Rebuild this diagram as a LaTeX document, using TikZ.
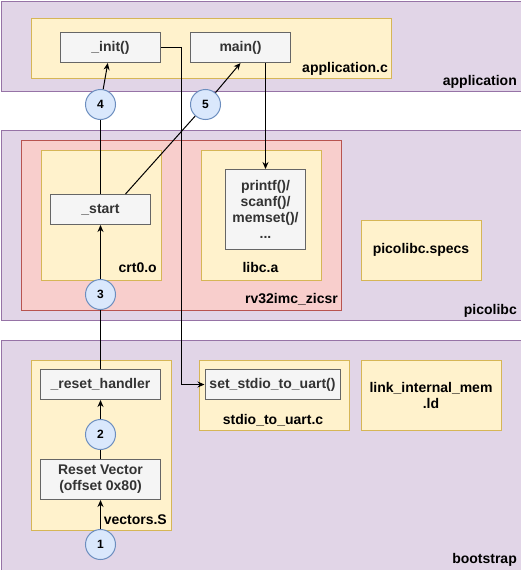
\documentclass[tikz,border=0pt]{standalone}
\usepackage{fontspec}
\setmainfont{Liberation Sans}
\usetikzlibrary{arrows.meta}
\definecolor{purF}{HTML}{E1D5E7}\definecolor{purD}{HTML}{9673A6}
\definecolor{yelF}{HTML}{FFF2CC}\definecolor{yelD}{HTML}{D6B656}
\definecolor{redF}{HTML}{F8CECC}\definecolor{redD}{HTML}{B85450}
\definecolor{gryF}{HTML}{F5F5F5}\definecolor{gryD}{HTML}{666666}\definecolor{gryT}{HTML}{333333}
\definecolor{bluF}{HTML}{DAE8FC}\definecolor{bluD}{HTML}{6C8EBF}
\tikzset{
  band/.style={draw=purD,fill=purF,line width=1pt,rectangle,anchor=north west,inner sep=0pt},
  ybox/.style={draw=yelD,fill=yelF,line width=1pt,rectangle,anchor=north west,inner sep=0pt},
  rbox/.style={draw=redD,fill=redF,line width=1pt,rectangle,anchor=north west,inner sep=0pt},
  gbox/.style={draw=gryD,fill=gryF,line width=1pt,rectangle,text=gryT,font=\bfseries\fontsize{14}{16}\selectfont,align=center,inner sep=0pt},
  lbl/.style={font=\bfseries\fontsize{14}{16}\selectfont,inner sep=0pt,align=center},
  num/.style={circle,draw=bluD,fill=bluF,line width=1pt,minimum size=30pt,inner sep=0pt,font=\bfseries\fontsize{12}{14}\selectfont},
  conn/.style={line width=1pt,draw=black},
  arr/.style={conn,-{Stealth[length=7pt,width=6pt]}},
}
\begin{document}
\begin{tikzpicture}[x=1pt,y=-1pt]
\useasboundingbox (0,0) rectangle (521,570);
% bands
\node[band,minimum width=520pt,minimum height=90pt] (appband) at (0.5,0.5) {};
\node[band,minimum width=520pt,minimum height=190pt] (picband) at (0.5,129.5) {};
\node[band,minimum width=520pt,minimum height=230pt] (bootband) at (0.5,339.5) {};
\node[lbl,anchor=base east] (appl) at (517,85) {application};
\node[lbl,anchor=base east] (picl) at (517,314) {picolibc};
\node[lbl,anchor=base east] (bootl) at (517,563) {bootstrap};
% application
\node[ybox,minimum width=360pt,minimum height=60pt] (appc) at (30.5,17.5) {};
\node[lbl,anchor=base east] (appcl) at (388,72) {application.c};
\node[gbox,minimum width=100pt,minimum height=30pt] (init) at (110.5,47.5) {\_init()};
\node[gbox,minimum width=100pt,minimum height=30pt] (main) at (240.5,47.5) {main()};
% picolibc
\node[rbox,minimum width=320pt,minimum height=170pt] (rv) at (20.5,139.5) {};
\node[lbl,anchor=base east] (rvl) at (338,303) {rv32imc\_zicsr};
\node[ybox,minimum width=120pt,minimum height=130pt] (crt) at (40.5,149.5) {};
\node[lbl,anchor=base east] (crtl) at (157,272) {crt0.o};
\node[ybox,minimum width=120pt,minimum height=130pt] (libc) at (200.5,149.5) {};
\node[lbl,anchor=base] (libcl) at (260.5,272) {libc.a};
\node[gbox,minimum width=100pt,minimum height=30pt] (start) at (100.5,209.5) {\_start};
\node[gbox,minimum width=80pt,minimum height=80pt] (printf) at (265.5,209.5) {printf()/\\scanf()/\\memset()/\\...};
\node[ybox,minimum width=120pt,minimum height=60pt,lbl] (specs) at (360.5,219.5) {picolibc.specs};
% bootstrap
\node[ybox,minimum width=140pt,minimum height=170pt] (vec) at (30.5,359.5) {};
\node[lbl,anchor=base east] (vecl) at (167,524) {vectors.S};
\node[gbox,minimum width=120pt,minimum height=30pt] (reset) at (100.5,384.5) {\_reset\_handler};
\node[gbox,minimum width=120pt,minimum height=40pt] (rvec) at (100.5,479.5) {Reset Vector\\(offset 0x80)};
\node[ybox,minimum width=150pt,minimum height=70pt] (stdc) at (198.5,359.5) {};
\node[lbl,anchor=base] (stdcl) at (273,424) {stdio\_to\_uart.c};
\node[gbox,minimum width=135pt,minimum height=30pt] (setio) at (272.5,384.5) {set\_stdio\_to\_uart()};
\node[ybox,minimum width=140pt,minimum height=70pt,lbl] (link) at (360.5,359.5) {link\_internal\_mem\\.ld};
% numbered circles
\node[num] (n1) at (100.5,544.5) {1};
\node[num] (n2) at (100.5,434.5) {2};
\node[num] (n3) at (100.5,294.5) {3};
\node[num] (n4) at (100.5,104.5) {4};
\node[num] (n5) at (205.5,104.5) {5};
% connectors
\draw[arr] (n1) -- (rvec);
\draw[conn] (rvec) -- (n2);
\draw[arr] (n2) -- (reset);
\draw[conn] (reset) -- (n3);
\draw[arr] (n3) -- (start);
\draw[conn] (start) -- (n4);
\draw[arr] (n4) -- (init);
\draw[conn] ([xshift=25pt]start.north) -- (n5);
\draw[arr] (n5) -- (main.south);
\draw[arr] (init.east) -- ++(20,0) |- (setio.west);
\draw[arr] (printf.north |- main.south) -- (printf.north);
\end{tikzpicture}
\end{document}
